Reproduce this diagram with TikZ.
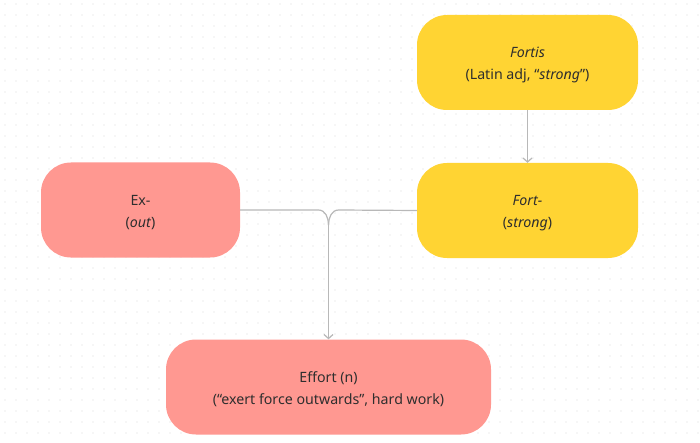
\documentclass[tikz,border=0pt]{standalone}
\usepackage{fontspec}
\setmainfont{Noto Sans}
\usetikzlibrary{arrows.meta}
\definecolor{yel}{HTML}{FFD433}
\definecolor{pnk}{HTML}{FF9891}
\definecolor{txt}{HTML}{2E2E2E}
\definecolor{ln}{HTML}{B8B8B8}
\definecolor{dotc}{HTML}{DCDCDC}
\newcommand{\tstrut}{\rule{0pt}{15pt}}
\begin{document}
\begin{tikzpicture}[x=1pt,y=-1pt,
  box/.style={rounded corners=30pt,minimum height=95pt,text=txt,align=center,font=\fontsize{14.2}{22.5}\selectfont,inner sep=0pt},
  ybox/.style={box,fill=yel},
  pbox/.style={box,fill=pnk},
  conn/.style={draw=ln,line width=1.2pt,-{Straight Barb[length=4pt,width=9pt,line width=1.2pt]}},
  plain/.style={draw=ln,line width=1.2pt}]
\useasboundingbox[fill=white] (0,0) rectangle (700,443);
\foreach \i in {0,...,63} {\foreach \j in {0,...,40} {\fill[dotc] (5+\i*11,4+\j*11) circle (0.6pt);}}
\node[ybox,minimum width=221pt] (fortis) at (527.5,62.5) {\tstrut\textit{Fortis}\\(Latin adj, “\textit{strong}”)};
\node[ybox,minimum width=221pt] (fort) at (527.5,210.5) {\tstrut\textit{Fort-}\\(\textit{strong})};
\node[pbox,minimum width=199pt] (ex) at (140.5,210) {\tstrut Ex-\\(\textit{out})};
\node[pbox,minimum width=325pt] (effort) at (328.5,387) {\tstrut Effort (n)\\(“exert force outwards”, hard work)};
\draw[conn] (fortis.south) -- (fort.north);
\coordinate (j) at (328.5,225);
\draw[plain] (ex.east) -- (318.5,210) to[out=0,in=90] (j);
\draw[plain] (fort.west) -- (338.5,210) to[out=180,in=90] (j);
\draw[conn] (j) -- (effort.north);
\end{tikzpicture}
\end{document}
